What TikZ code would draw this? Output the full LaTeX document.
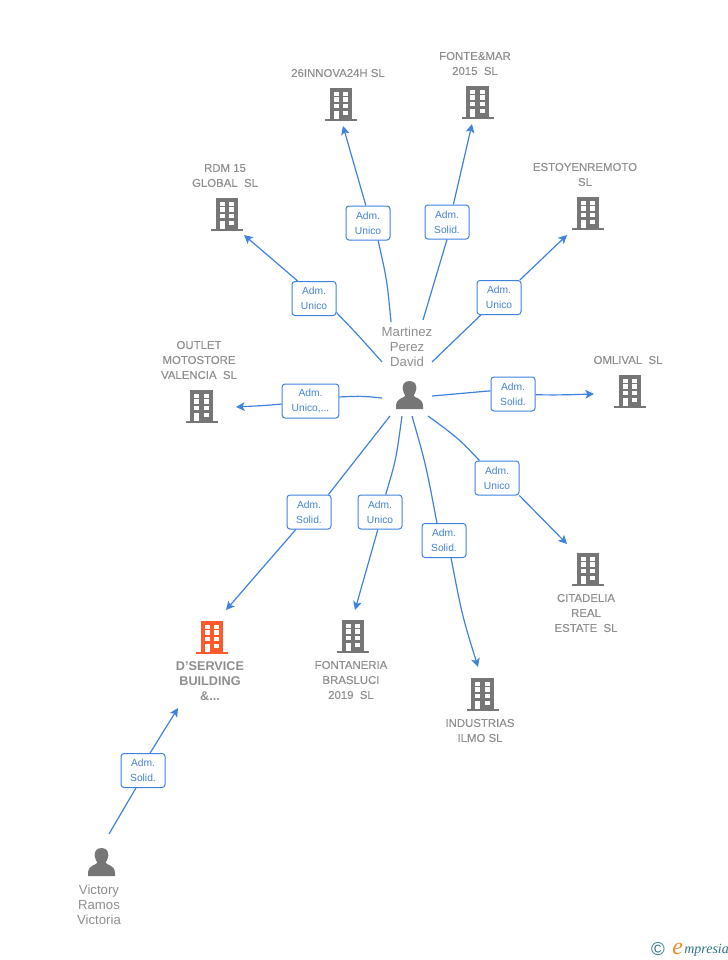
\documentclass[tikz,border=0pt]{standalone}
\usepackage{fontspec}
\setmainfont{Liberation Sans}
\newfontfamily\logoserif{Liberation Serif}
\usetikzlibrary{arrows.meta}
\definecolor{linkblue}{HTML}{3F82DE}
\definecolor{labeltxt}{HTML}{4583D8}
\definecolor{captiongrey}{HTML}{8E8E8E}
\definecolor{icongrey}{HTML}{767676}
\definecolor{iconorange}{HTML}{FF5A2B}
\definecolor{logoteal}{HTML}{2F7485}
\definecolor{logoorange}{HTML}{F58A1F}
\tikzset{
  x=0.75pt,y=-0.75pt,
  rolebox/.style={draw=linkblue,line width=0.75pt,fill=white,rounded corners=2.2pt,inner sep=0pt,
    minimum width=33pt,minimum height=25.5pt,align=center,text=labeltxt,
    font=\fontsize{7.7}{11.4}\selectfont},
  company/.style={inner sep=0pt,align=center,text=captiongrey,
    font=\fontsize{8.55}{11.25}\selectfont\addfontfeatures{FakeBold=0.1}},
  focus/.style={inner sep=0pt,align=center,text=captiongrey,
    font=\fontsize{9.5}{11.25}\selectfont\bfseries},
  person/.style={inner sep=0pt,align=center,text=captiongrey,
    font=\fontsize{9.9}{11.25}\selectfont},
  link/.style={draw=linkblue,line width=0.9pt},
  linkarrow/.style={link,-{Stealth[length=6.5pt,width=6.5pt,inset=1.6pt]}},
  bldg/.pic={
    \fill[pic actions] (-11.5,-2) rectangle (11,-33.5);
    \fill[pic actions] (-16,0) rectangle (16,-2.4);
    \foreach \yy in {-29.3,-23.7,-17}{
      \fill[white] (-7.5,\yy) rectangle (-2.5,\yy+4.2);
      \fill[white] (2,\yy) rectangle (7,\yy+4.2);
    }
    \fill[white] (-7.5,-10.3) rectangle (-2.5,-2.4);
    \fill[white] (2,-10.3) rectangle (7,-6);
  },
  bust/.pic={
    \fill[pic actions] (0,-28) .. controls (-5.5,-28) and (-7.2,-24) .. (-6.8,-20)
      .. controls (-6.6,-17) and (-5,-15) .. (-4.2,-13.5)
      .. controls (-4.2,-11) and (-13.5,-11.5) .. (-13.5,-3) -- (-13.5,0) -- (13.5,0) -- (13.5,-3)
      .. controls (13.5,-11.5) and (4.2,-11) .. (4.2,-13.5)
      .. controls (5,-15) and (6.6,-17) .. (6.8,-20)
      .. controls (7.2,-24) and (5.5,-28) .. (0,-28) -- cycle;
  }
}
\begin{document}
\begin{tikzpicture}
\useasboundingbox (0,0) rectangle (728,960);

% icons
\pic[icongrey,fill=icongrey] at (341,121) {bldg};
\pic[icongrey,fill=icongrey] at (477.5,119) {bldg};
\pic[icongrey,fill=icongrey] at (227,231) {bldg};
\pic[icongrey,fill=icongrey] at (588,230) {bldg};
\pic[icongrey,fill=icongrey] at (201.5,423) {bldg};
\pic[icongrey,fill=icongrey] at (630,408) {bldg};
\pic[icongrey,fill=icongrey] at (588,586) {bldg};
\pic[icongrey,fill=icongrey] at (353,653) {bldg};
\pic[icongrey,fill=icongrey] at (482.5,711) {bldg};
\pic[iconorange,fill=iconorange] at (212,654) {bldg};
\pic[icongrey,fill=icongrey] at (409.5,409) {bust};
\pic[icongrey,fill=icongrey] at (101.5,876) {bust};

% captions
\node[company] (n26) at (338,73) {26INNOVA24H SL};
\node[company] (nfonte) at (475,63.5) {FONTE\&MAR\\2015~~SL};
\node[company] (nrdm) at (225,175.5) {RDM 15\\GLOBAL~~SL};
\node[company] (nesto) at (585,174.5) {ESTOYENREMOTO\\SL};
\node[company] (noutlet) at (199,360) {OUTLET\\MOTOSTORE\\VALENCIA~~SL};
\node[company] (nomli) at (628,360) {OMLIVAL~~SL};
\node[company] (ncita) at (586,613) {CITADELIA\\REAL\\ESTATE~~SL};
\node[company] (nfont) at (351,680) {FONTANERIA\\BRASLUCI\\2019~~SL};
\node[company] (nindu) at (480,730.5) {INDUSTRIAS\\ILMO SL};
\node[focus] (ndser) at (210,681) {D'SERVICE\\BUILDING\\\&...};
\node[person] (nmart) at (407,347) {Martinez\\Perez\\David};
\node[person] (nvict) at (99,905) {Victory\\Ramos\\Victoria};

% role boxes
\node[rolebox] (l26) at (368,223) {Adm.\\Unico};
\node[rolebox] (lfonte) at (447,222) {Adm.\\Solid.};
\node[rolebox] (lrdm) at (314,298.5) {Adm.\\Unico};
\node[rolebox] (lesto) at (499,297.5) {Adm.\\Unico};
\node[rolebox,minimum width=42.5pt] (loutlet) at (310.5,401) {Adm.\\Unico,...};
\node[rolebox] (lomli) at (513,394) {Adm.\\Solid.};
\node[rolebox] (lcita) at (497,478) {Adm.\\Unico};
\node[rolebox] (lindu) at (444,540.5) {Adm.\\Solid.};
\node[rolebox] (lfont) at (380,512) {Adm.\\Unico};
\node[rolebox] (ldser) at (309,512) {Adm.\\Solid.};
\node[rolebox] (lvict) at (143,770.5) {Adm.\\Solid.};

% free ends
\coordinate (s26) at (391,322);   \coordinate (t26) at (343,126);
\coordinate (sfonte) at (423,320);\coordinate (tfonte) at (472,124);
\coordinate (srdm) at (382,362);  \coordinate (trdm) at (244,235);
\coordinate (sesto) at (432,362); \coordinate (testo) at (567,235);
\coordinate (soutlet) at (382,398);\coordinate (toutlet) at (236,407);
\coordinate (somli) at (432,396); \coordinate (tomli) at (594,394);
\coordinate (scita) at (428,416); \coordinate (tcita) at (567,544);
\coordinate (sindu) at (412,416); \coordinate (tindu) at (478,667);
\coordinate (sfont) at (402,416); \coordinate (tfont) at (355,610);
\coordinate (sdser) at (390,416); \coordinate (tdser) at (226,610);
\coordinate (svict) at (109,834); \coordinate (tvict) at (178,708);

% connectors
\draw[link] (s26) .. controls (387,280) .. (l26.-60);
\draw[linkarrow] (l26.97) -- (t26);
\draw[link] (sfonte) -- (lfonte.-90);
\draw[linkarrow] (lfonte.70) -- (tfonte);
\draw[link] (srdm) .. controls (358,335) .. (lrdm.-32);
\draw[linkarrow] (lrdm.133) -- (trdm);
\draw[link] (sesto) -- (lesto);
\draw[linkarrow] (lesto.40) -- (testo);
\draw[link] (soutlet) .. controls (362,396) .. (loutlet.8);
\draw[linkarrow] (loutlet.186) .. controls (265,405.5) .. (toutlet);
\draw[link] (somli) -- (lomli.172);
\draw[linkarrow] (lomli.-2) .. controls (560,395) .. (tomli);
\draw[link] (scita) .. controls (458,438) .. (lcita.135);
\draw[linkarrow] (lcita.-38) -- (tcita);
\draw[link] (sindu) .. controls (426,465) .. (lindu.112);
\draw[linkarrow] (lindu.-68) .. controls (462,615) .. (tindu);
\draw[link] (sfont) .. controls (396,460) .. (lfont.72);
\draw[linkarrow] (lfont.-97) -- (tfont);
\draw[link] (sdser) -- (ldser.42);
\draw[linkarrow] (ldser.233) -- (tdser);
\draw[link] (svict) -- (lvict.248);
\draw[linkarrow] (lvict.68) -- (tvict);

% logo
\node[inner sep=0pt,text=logoteal,font=\fontsize{14}{14}\selectfont] (logoc) at (658,949) {©};
\node[inner sep=0pt,anchor=base west,text=logoorange,font=\logoserif\itshape\fontsize{18}{18}\selectfont] (logoe) at (672,954.5) {e};
\node[inner sep=0pt,anchor=base west,text=logoteal,font=\logoserif\itshape\fontsize{10.5}{12}\selectfont] (logot) at (684,953) {mpresia};
\end{tikzpicture}
\end{document}
